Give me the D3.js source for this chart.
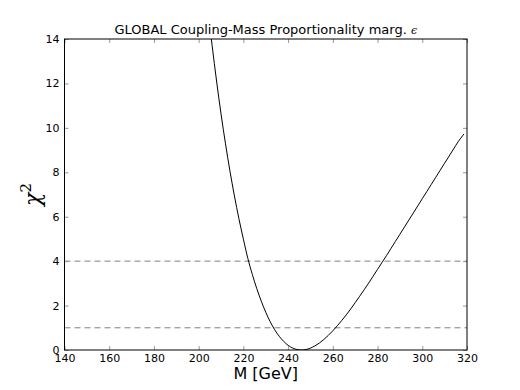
<!DOCTYPE html>
<html><head><meta charset="utf-8">
<script src="https://cdn.jsdelivr.net/npm/d3@7"></script>
<style>body{margin:0;background:#fff}svg{display:block}</style>
</head><body>
<script>
const massValues = [205, 206, 208, 210, 212, 214, 216, 218, 220, 222, 224, 226, 228, 230, 232, 234, 236, 238, 240, 242, 244, 246,
  248, 250, 252, 254, 256, 258, 260, 262, 264, 266, 268, 270, 272, 274, 276, 278, 280, 282, 284, 286, 288, 290, 292, 294, 296, 298, 300, 302, 304, 306, 308, 310, 312, 314, 316, 318, 318.6];
const chi2Values = [14.57, 13.72, 12.11, 10.63, 9.28, 8.05, 6.93, 5.91, 4.99, 4.12, 3.40, 2.76, 2.20, 1.70, 1.27, 0.91, 0.62, 0.39, 0.21, 0.09, 0.02, 0,
  0.02, 0.085, 0.185, 0.315, 0.475, 0.66, 0.865, 1.09, 1.33, 1.58, 1.85, 2.13, 2.42, 2.71, 3.01, 3.32, 3.63, 3.94, 4.25, 4.57, 4.89, 5.21, 5.53, 5.85, 6.17, 6.49, 6.81, 7.13, 7.45, 7.77, 8.09, 8.41, 8.73, 9.05, 9.37, 9.64, 9.72];
const refLevels = [1, 4];
const xTicks = [140, 160, 180, 200, 220, 240, 260, 280, 300, 320];
const yTicks = [0, 2, 4, 6, 8, 10, 12, 14];
const titleText = "GLOBAL Coupling-Mass Proportionality marg. ";

const W = 520, H = 390;
const m = {l: 64.5, r: 467, t: 39, b: 350};
const svg = d3.select("body").append("svg").attr("width", W).attr("height", H);
const x = d3.scaleLinear().domain([140, 320]).range([m.l, m.r]);
const y = d3.scaleLinear().domain([0, 14]).range([m.b, m.t]);

const font = "DejaVu Sans, sans-serif";
svg.append("defs").append("clipPath").attr("id", "clip")
  .append("rect").attr("x", m.l).attr("y", m.t).attr("width", m.r - m.l).attr("height", m.b - m.t);

// reference dashed lines
svg.selectAll("line.ref").data(refLevels).enter().append("line")
  .attr("x1", m.l).attr("x2", m.r).attr("y1", d => y(d)).attr("y2", d => y(d))
  .attr("stroke", "#808080").attr("stroke-width", 1).attr("stroke-dasharray", "6,4");

// curve
const pts = massValues.map((v, i) => [v, chi2Values[i]]);
svg.append("path").datum(pts)
  .attr("clip-path", "url(#clip)")
  .attr("d", d3.line().x(d => x(d[0])).y(d => y(d[1])).curve(d3.curveMonotoneX))
  .attr("fill", "none").attr("stroke", "#000").attr("stroke-width", 1);

// axes (ticks inside, on all sides)
const tl = 4;
const gx = svg.append("g").attr("transform", `translate(0,${m.b})`)
  .call(d3.axisBottom(x).tickValues(xTicks).tickSizeInner(-tl).tickSizeOuter(0).tickPadding(4));
const gxt = svg.append("g").attr("transform", `translate(0,${m.t})`)
  .call(d3.axisTop(x).tickValues(xTicks).tickSizeInner(-tl).tickSizeOuter(0).tickFormat(""));
const gy = svg.append("g").attr("transform", `translate(${m.l},0)`)
  .call(d3.axisLeft(y).tickValues(yTicks).tickSizeInner(-tl).tickSizeOuter(0).tickPadding(5));
const gyr = svg.append("g").attr("transform", `translate(${m.r},0)`)
  .call(d3.axisRight(y).tickValues(yTicks).tickSizeInner(-tl).tickSizeOuter(0).tickFormat(""));
[gx, gxt, gy, gyr].forEach(g => {
  g.select(".domain").remove();
  g.selectAll(".tick line").attr("stroke", "#999");
  g.selectAll("text").attr("font-family", font).attr("font-size", 11).attr("fill", "#000");
});
gx.selectAll("text").attr("dy", "0.71em");

// frame
svg.append("rect").attr("x", m.l).attr("y", m.t).attr("width", m.r - m.l).attr("height", m.b - m.t)
  .attr("fill", "none").attr("stroke", "#000").attr("stroke-width", 1);

// title
const t = svg.append("text").attr("x", (m.l + m.r) / 2).attr("y", 34).attr("text-anchor", "middle")
  .attr("font-family", font).attr("font-size", 13).text(titleText);
t.append("tspan").attr("font-family", "DejaVu Serif, serif").attr("font-style", "italic").attr("font-size", 11).text("ϵ");

// x label
svg.append("text").attr("x", (m.l + m.r) / 2).attr("y", 379).attr("text-anchor", "middle")
  .attr("font-family", font).attr("font-size", 16).text("M [GeV]");

// y label
const yl = svg.append("text").attr("transform", `translate(40,${(m.t + m.b) / 2}) rotate(-90)`)
  .attr("text-anchor", "middle").attr("font-family", "DejaVu Serif, serif").attr("font-size", 22);
yl.append("tspan").attr("font-style", "italic").text("χ");
yl.append("tspan").attr("font-size", 15).attr("dy", -9).text("2");
</script>
</body></html>
